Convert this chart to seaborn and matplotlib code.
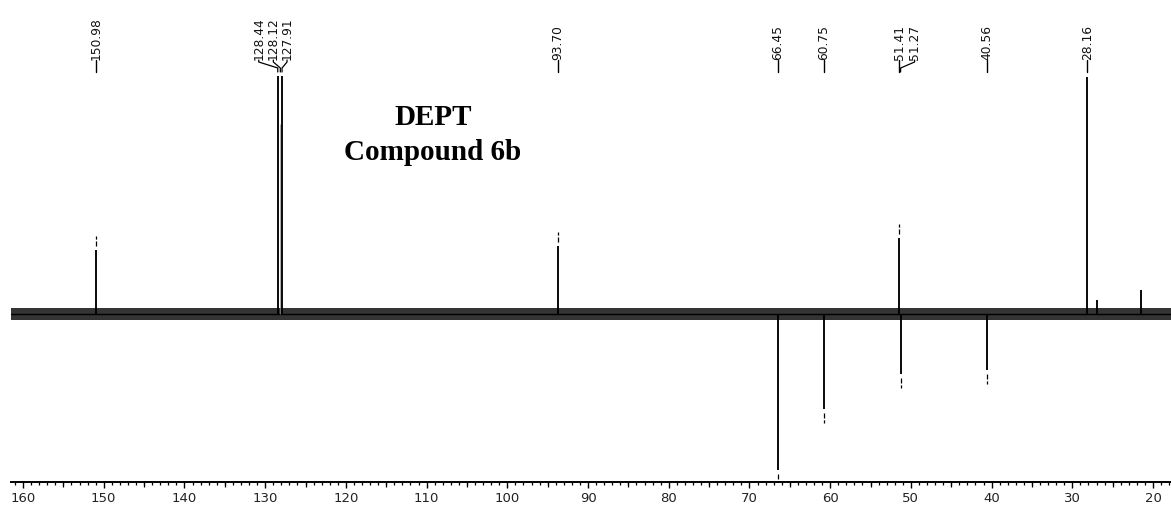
import matplotlib
matplotlib.use("Agg")
import matplotlib.pyplot as plt
import matplotlib.transforms as mtransforms
from matplotlib.ticker import MultipleLocator, FixedLocator, NullFormatter
import numpy as np
import pandas as pd
import seaborn as sns

# ---------------- data ----------------
peak_ppm = [150.98, 128.44, 128.12, 127.91, 93.70, 66.45, 60.75, 51.41, 51.27, 40.56, 28.16, 26.90, 21.50]
peak_int = [27.0, 100.0, 80.0, 100.0, 28.5, -65.5, -40.0, 32.0, -25.0, -23.5, 99.5, 6.0, 10.0]
label_ppm = [150.98, 128.44, 128.12, 127.91, 93.70, 66.45, 60.75, 51.41, 51.27, 40.56, 28.16]
label_txt = ["150.98", "128.44", "128.12", "127.91", "93.70", "66.45", "60.75", "51.41", "51.27", "40.56", "28.16"]
marker_ppm = [150.98, 93.70, 66.45, 60.75, 51.41, 51.27, 40.56]
tick_values = list(range(160, 10, -10))
title_lines = ["DEPT", "Compound 6b"]

# ---------------- layout / style ----------------
W, H = 1171, 512
AX_LEFT_PX, AX_BOTTOM_PX = 11, 482          # axes spans x 11..1171, y 0..482 (pixels from top)
PX_PER_UNIT = 2.38                          # intensity unit -> pixels
BASE_PX = 314                               # baseline pixel row
X_LEFT, X_RIGHT = 161.49, 17.77
PX_PER_PPM = 8.071

# label x offsets (pixels) for crowded label groups
label_dx_px = {"128.44": -19, "128.12": -7, "127.91": 5, "51.27": 14}
thin_peaks = {128.12}

sns.set_theme(style="white")
plt.rcParams["font.family"] = ["DejaVu Sans"]

fig = plt.figure(figsize=(W / 100, H / 100), dpi=100)
ax = fig.add_axes([AX_LEFT_PX / W, (H - AX_BOTTOM_PX) / H, (W - AX_LEFT_PX) / W, AX_BOTTOM_PX / H])

ylo = -(AX_BOTTOM_PX - BASE_PX) / PX_PER_UNIT
yhi = BASE_PX / PX_PER_UNIT
ax.set_xlim(X_LEFT, X_RIGHT)
ax.set_ylim(ylo, yhi)

# baseline (noise band)
base_df = pd.DataFrame({"ppm": [X_LEFT, X_RIGHT], "y": [0.0, 0.0]})
ax.fill_between(base_df["ppm"], -2.6, 2.4, color="#1e1e1e", lw=0, alpha=0.9)
sns.lineplot(data=base_df, x="ppm", y="y", ax=ax, color="black", lw=1.0)

# peaks
for p, v in zip(peak_ppm, peak_int):
    if p in thin_peaks:
        ax.vlines(p, 0, v, color="#8a8a8a", lw=0.5)
    else:
        ax.vlines(p, 0, v, color="black", lw=1.35)

# peak-pick markers (short broken ticks beyond the tips)
u = 1.0 / PX_PER_UNIT
for p in marker_ppm:
    v = peak_int[peak_ppm.index(p)]
    s = 1 if v > 0 else -1
    ax.plot([p, p], [v + s * 4 * u, v + s * 14 * u], color="black", lw=0.9,
            linestyle=(0, (4, 1.5)), solid_capstyle="butt")

# top labels with leader lines
trans = mtransforms.blended_transform_factory(ax.transData, ax.transAxes)
def fy(px):
    return (AX_BOTTOM_PX - px) / AX_BOTTOM_PX
for p, t in zip(label_ppm, label_txt):
    dx = label_dx_px.get(t, 0)
    lx = p - dx / PX_PER_PPM
    ax.text(lx, fy(60), t, rotation=90, ha="center", va="bottom",
            fontsize=8.8, color="#111111", transform=trans)
    if dx == 0:
        ax.plot([p, p], [fy(60), fy(72)], color="black", lw=1.0, transform=trans, clip_on=False)
    else:
        ax.plot([lx, lx, p, p], [fy(60), fy(62), fy(68), fy(72)], color="black", lw=0.9,
                transform=trans, clip_on=False)

# axis styling
sns.despine(ax=ax, left=True, top=True, right=True)
ax.spines["bottom"].set_color("black")
ax.spines["bottom"].set_linewidth(1.4)
ax.set_yticks([])
ax.set_ylabel("")
ax.set_xlabel("")
ax.xaxis.set_major_locator(FixedLocator(tick_values))
ax.set_xticklabels([str(v) for v in tick_values])
ax.xaxis.set_minor_locator(MultipleLocator(1))
ax.tick_params(axis="x", which="major", direction="out", length=4.5, width=1.0,
               color="black", labelsize=9.5, pad=3, bottom=True, labelcolor="#222222")
ax.tick_params(axis="x", which="minor", direction="out", length=2.2, width=0.9,
               color="black", bottom=True)
sec = ax.secondary_xaxis("bottom")
sec.xaxis.set_major_locator(FixedLocator([v + 5 for v in tick_values]))
sec.xaxis.set_major_formatter(NullFormatter())
sec.xaxis.set_minor_locator(FixedLocator([]))
sec.tick_params(axis="x", which="major", direction="out", length=3.3, width=0.9, color="black")
sec.spines["bottom"].set_visible(False)
ax.grid(False)
ax.set_facecolor("white")

# title
fig.text(433 / W, 1 - 125 / H, title_lines[0], ha="center", va="baseline",
         fontsize=21, fontweight="bold", family=["Liberation Serif"], color="black")
fig.text(433 / W, 1 - 160 / H, title_lines[1], ha="center", va="baseline",
         fontsize=21, fontweight="bold", family=["Liberation Serif"], color="black")

fig.savefig("out.png", dpi=100, facecolor="white")
